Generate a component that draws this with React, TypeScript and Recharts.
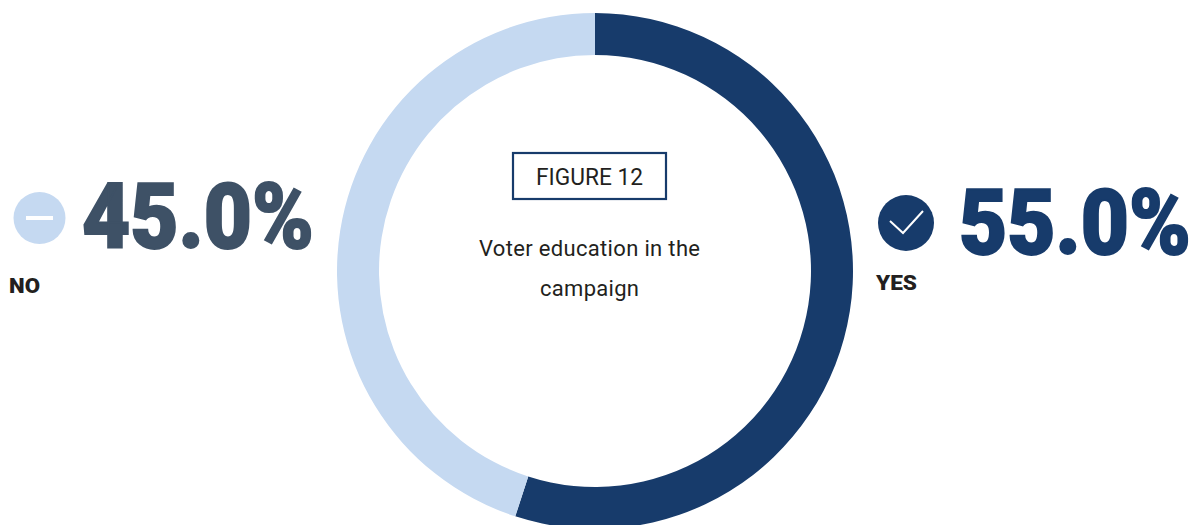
import React from 'react';
import { PieChart, Pie, Cell } from 'recharts';

const answers = ['YES', 'NO'];
const shares = [55.0, 45.0];
const sliceColors = ['#173b6b', '#c5d9f1'];
const figureLabel = 'FIGURE 12';
const titleLines = ['Voter education in the', 'campaign'];

const data = answers.map((name, i) => ({ name, value: shares[i] }));
const font = 'Roboto, sans-serif';
const ink = '#231f20';
// Roboto is wider than the display face, so the big figures get squeezed
const figureSqueeze = 0.925;

const pct = (v: number) => `${v.toFixed(1)}%`;

const App: React.FC = () => {
  return (
    <div style={{ position: 'absolute', left: 0, top: 0, width: 1194, height: 525, overflow: 'hidden', background: '#fff' }}>
      <PieChart width={1194} height={525} margin={{ top: 0, right: 0, bottom: 0, left: 0 }}>
        <Pie
          data={data}
          dataKey="value"
          nameKey="name"
          cx={595}
          cy={271}
          innerRadius={216}
          outerRadius={258}
          startAngle={90}
          endAngle={-270}
          stroke="none"
          isAnimationActive={false}
        >
          {data.map((d, i) => (
            <Cell key={d.name} fill={sliceColors[i]} />
          ))}
        </Pie>

        {/* centre caption */}
        <rect x={513} y={153} width={153} height={46} fill="none" stroke="#173b6b" strokeWidth={2.2} />
        <text x={589.5} y={185} textAnchor="middle" fontFamily={font} fontSize={23} fill={ink} textLength={107} lengthAdjust="spacingAndGlyphs">
          {figureLabel}
        </text>
        <text x={589.5} y={256} textAnchor="middle" fontFamily={font} fontSize={22} fill={ink} textLength={221} lengthAdjust="spacing">
          {titleLines[0]}
        </text>
        <text x={589.5} y={296} textAnchor="middle" fontFamily={font} fontSize={22} fill={ink} textLength={99} lengthAdjust="spacing">
          {titleLines[1]}
        </text>

        {/* NO side */}
        <circle cx={39.5} cy={218} r={26} fill={sliceColors[1]} />
        <rect x={26} y={216} width={27} height={4} fill="#fff" />
        <text
          transform={`translate(82 247.5) scale(${figureSqueeze} 1)`}
          fontFamily={font}
          fontWeight={900}
          fontSize={90}
          fill="#3e5166"
          stroke="#3e5166"
          strokeWidth={2}
        >
          {pct(shares[1])}
        </text>
        <text x={9} y={293} fontFamily={font} fontWeight={900} fontSize={21} fill={ink} textLength={31} lengthAdjust="spacingAndGlyphs">
          {answers[1]}
        </text>

        {/* YES side */}
        <circle cx={906} cy={223} r={28} fill={sliceColors[0]} />
        <polyline points="890,221 903,233 923,211" fill="none" stroke="#fff" strokeWidth={2} />
        <text
          transform={`translate(959 253.5) scale(${figureSqueeze} 1)`}
          fontFamily={font}
          fontWeight={900}
          fontSize={90}
          fill={sliceColors[0]}
          stroke={sliceColors[0]}
          strokeWidth={2}
        >
          {pct(shares[0])}
        </text>
        <text x={876} y={290} fontFamily={font} fontWeight={900} fontSize={21} fill={ink} textLength={41} lengthAdjust="spacingAndGlyphs">
          {answers[0]}
        </text>
      </PieChart>
    </div>
  );
};

export default App;
